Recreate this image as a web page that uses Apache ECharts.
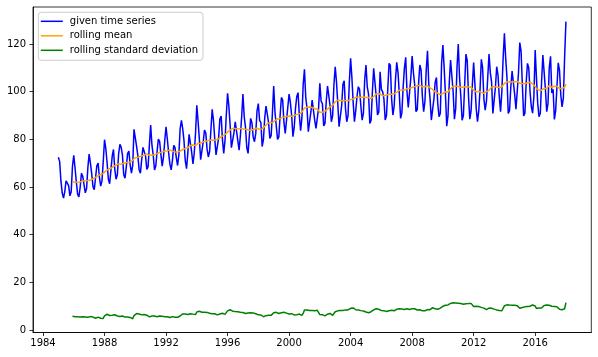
<!DOCTYPE html>
<html>
<head>
<meta charset="utf-8">
<script src="https://cdn.jsdelivr.net/npm/echarts@6/dist/echarts.min.js"></script>
<style>html,body{margin:0;padding:0;background:#fff}#c{width:598px;height:357px}</style>
</head>
<body>
<div id="c"></div>
<script>
// Monthly series starting 1985-01
const startYear = 1985;
const production = [
  72.5052, 70.6720, 62.4502, 57.4714, 55.3151, 58.0904, 62.6202, 63.2485, 60.5846, 56.3154, 58.0005, 68.7145,
  73.3057, 67.9869, 62.2221, 57.0329, 55.8137, 59.9005, 65.7655, 64.4816, 61.0005, 57.5322, 59.3417, 68.1354,
  73.8152, 70.0620, 65.6100, 60.1586, 58.8734, 63.8918, 68.8694, 70.0669, 64.1151, 60.3789, 62.4643, 70.5777,
  79.8703, 76.1622, 70.2928, 63.2384, 61.4065, 67.1097, 72.9816, 75.7655, 67.5152, 63.2832, 65.1078, 73.8631,
  77.9188, 76.6822, 73.3523, 65.1081, 63.6892, 68.4722, 74.0301, 75.0448, 69.3053, 65.8735, 69.0706, 84.1949,
  84.3598, 77.1726, 73.1964, 67.2781, 65.8218, 71.4654, 76.6140, 77.1052, 73.0610, 67.4365, 68.5665, 77.6839,
  86.0214, 77.5573, 73.3650, 67.1500, 68.8162, 74.8448, 80.0928, 79.1606, 73.5743, 68.7538, 72.5166, 79.4894,
  85.2855, 80.1643, 74.5275, 69.6441, 67.1784, 71.2078, 77.5081, 76.5374, 72.3541, 69.0286, 73.4992, 84.5159,
  87.9464, 84.5561, 79.4747, 71.0578, 67.6762, 74.3297, 82.1048, 82.0605, 74.6031, 69.6810, 74.1730, 82.4580,
  94.3, 87.6, 80.0, 71.5, 70.8, 78.9, 83.9, 82.7, 76.0, 72.6, 74.9, 83.9,
  92.6, 88.0, 80.2, 73.5, 73.6, 80.5, 88.5, 89.8, 80.0, 74.1, 79.5, 90.0,
  99.3, 94.0, 86.0, 76.5, 76.2, 82.8, 87.4, 87.0, 79.5, 75.5, 81.5, 89.5,
  99.0, 89.5, 85.0, 76.5, 74.1, 81.5, 88.8, 87.0, 81.0, 79.0, 82.5, 92.0,
  95.0, 88.0, 87.0, 77.0, 80.0, 89.0, 94.0, 94.0, 87.0, 80.4, 81.5, 91.0,
  102.4, 91.5, 92.0, 80.0, 81.0, 90.0, 97.6, 96.5, 87.0, 82.5, 83.0, 93.5,
  99.0, 95.5, 90.0, 81.1, 85.0, 93.0, 98.0, 99.6, 90.0, 83.6, 89.0, 103.0,
  109.4, 97.5, 93.0, 83.2, 84.0, 91.5, 96.5, 96.5, 88.0, 84.6, 85.0, 93.0,
  103.5, 96.0, 95.0, 85.6, 86.7, 96.0, 102.4, 102.1, 94.0, 87.4, 90.0, 103.0,
  110.5, 104.0, 95.0, 85.3, 86.0, 94.0, 103.0, 104.6, 93.0, 87.4, 90.0, 104.0,
  114.0, 106.0, 95.5, 87.4, 92.0, 98.0, 102.1, 101.0, 94.0, 88.1, 91.0, 105.0,
  111.2, 102.0, 99.0, 86.7, 88.0, 100.0, 109.8, 109.5, 98.0, 90.2, 91.5, 108.4,
  101.0, 100.0, 97.0, 88.1, 90.0, 101.0, 111.9, 111.0, 97.0, 90.2, 94.0, 105.0,
  112.3, 108.0, 99.0, 88.8, 91.0, 102.0, 110.0, 114.4, 100.0, 93.4, 94.0, 106.0,
  115.0, 108.0, 103.0, 91.6, 92.5, 103.0, 111.2, 109.0, 98.0, 91.6, 96.0, 109.0,
  117.2, 103.0, 97.0, 88.1, 88.5, 97.0, 104.0, 106.0, 95.0, 89.5, 91.0, 112.0,
  119.6, 110.0, 99.0, 85.5, 90.0, 104.0, 113.3, 113.0, 100.0, 88.5, 93.0, 110.0,
  120.0, 106.0, 98.0, 88.0, 90.0, 103.0, 115.8, 113.0, 98.0, 88.5, 92.0, 103.0,
  112.2, 103.0, 93.0, 87.4, 92.0, 101.0, 113.6, 110.0, 97.0, 92.3, 96.0, 106.0,
  115.8, 108.0, 104.0, 90.9, 91.0, 102.0, 110.5, 107.0, 98.0, 91.6, 100.0, 114.0,
  124.5, 114.0, 106.0, 90.9, 92.0, 102.0, 108.7, 108.0, 99.0, 92.7, 100.0, 108.0,
  120.6, 117.0, 103.0, 89.8, 91.0, 104.0, 111.9, 110.0, 100.0, 93.7, 91.0, 98.0,
  117.5, 106.0, 95.0, 89.5, 91.0, 104.0, 115.4, 116.0, 101.0, 91.6, 95.0, 110.0,
  114.8505, 99.4901, 101.0396, 88.3530, 92.0805, 102.1532, 112.1538, 108.9312, 98.6154, 93.6137, 97.3359, 114.7212,
  129.4048
];
const windowSize = 12;
const xTicks = [1984, 1988, 1992, 1996, 2000, 2004, 2008, 2012, 2016];
const yTicks = [0, 20, 40, 60, 80, 100, 120];
const seriesNames = ['given time series', 'rolling mean', 'rolling standard deviation'];

// build series (rolling statistics like pandas rolling(12))
const t = i => startYear + i / 12;
const given = production.map((v, i) => [t(i), v]);
const rollMean = [], rollStd = [];
for (let i = windowSize - 1; i < production.length; i++) {
  const w = production.slice(i - windowSize + 1, i + 1);
  const m = w.reduce((a, b) => a + b, 0) / windowSize;
  const s = Math.sqrt(w.reduce((a, b) => a + (b - m) * (b - m), 0) / (windowSize - 1));
  rollMean.push([t(i), m]);
  rollStd.push([t(i), s]);
}

const font = 'DejaVu Sans';
const chart = echarts.init(document.getElementById('c'), null, {renderer: 'canvas', width: 598, height: 357});
chart.setOption({
  animation: false,
  backgroundColor: '#ffffff',
  grid: {left: 33, right: 6.7, top: 7, bottom: 24.5, show: true, borderColor: '#000', borderWidth: 0.8, backgroundColor: 'transparent'},
  legend: {
    orient: 'vertical', left: 38.3, top: 12.3,
    padding: [3, 5, 4, 2.5],
    itemWidth: 22, itemHeight: 1.5, itemGap: 2.5,
    backgroundColor: 'rgba(255,255,255,0.8)', borderColor: '#cccccc', borderWidth: 1, borderRadius: 3,
    textStyle: {fontFamily: font, fontSize: 10, color: '#000', lineHeight: 12, padding: [0, 0, 0, 2]},
    data: seriesNames.map(n => ({name: n, icon: 'rect'}))
  },
  xAxis: {
    type: 'value', min: 1983.35, max: 2019.65, position: 'bottom',
    splitLine: {show: false},
    axisLine: {show: true, onZero: false, lineStyle: {color: '#000', width: 0.8}},
    axisTick: {show: true, length: 3.5, customValues: xTicks, lineStyle: {color: '#000', width: 0.8}},
    axisLabel: {customValues: xTicks, formatter: v => String(v), margin: 6, fontFamily: font, fontSize: 10, color: '#000'}
  },
  yAxis: {
    type: 'value', min: -1.05, max: 135.55,
    splitLine: {show: false},
    axisLine: {show: true, onZero: false, lineStyle: {color: '#000', width: 0.8}},
    axisTick: {show: true, length: 3.5, customValues: yTicks, lineStyle: {color: '#000', width: 0.8}},
    axisLabel: {customValues: yTicks, margin: 7, fontFamily: font, fontSize: 10, color: '#000'}
  },
  series: [
    {name: seriesNames[0], type: 'line', data: given, showSymbol: false, symbol: 'none', color: '#0000ff', lineStyle: {color: '#0000ff', width: 1.5}},
    {name: seriesNames[1], type: 'line', data: rollMean, showSymbol: false, symbol: 'none', color: '#ffa500', lineStyle: {color: '#ffa500', width: 1.5}},
    {name: seriesNames[2], type: 'line', data: rollStd, showSymbol: false, symbol: 'none', color: '#008000', lineStyle: {color: '#008000', width: 1.5}}
  ]
});
</script>
</body>
</html>
